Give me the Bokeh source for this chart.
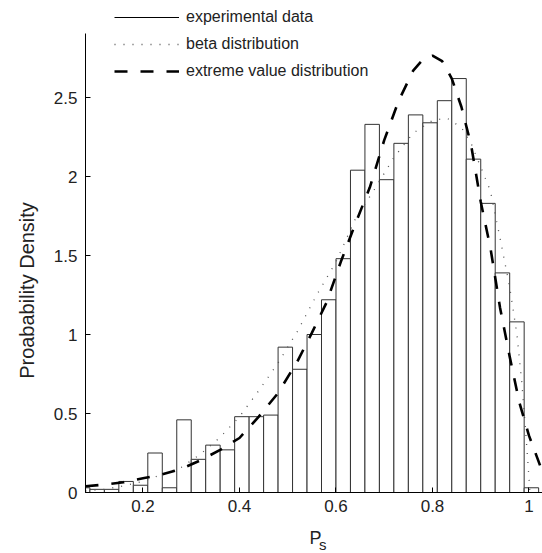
from math import pi
from bokeh.plotting import figure
from bokeh.models import Range1d, Legend, LegendItem, Label, FixedTicker
from bokeh.embed import file_html
from bokeh.resources import INLINE

# ---- data ----
bin_centers = [0.075, 0.105, 0.135, 0.165, 0.195, 0.225, 0.255, 0.285, 0.315, 0.345,
               0.375, 0.405, 0.435, 0.465, 0.495, 0.525, 0.555, 0.585, 0.615, 0.645,
               0.675, 0.705, 0.735, 0.765, 0.795, 0.825, 0.855, 0.885, 0.915, 0.945,
               0.975, 1.005]
density = [0.03, 0.02, 0.02, 0.07, 0.046, 0.25, 0.03, 0.46, 0.21, 0.30,
           0.27, 0.48, 0.48, 0.49, 0.92, 0.78, 1.00, 1.22, 1.48, 2.04,
           2.33, 1.98, 2.21, 2.39, 2.34, 2.48, 2.62, 2.11, 1.83, 1.39,
           1.08, 0.03]

beta_x = [0.0808, 0.12, 0.16, 0.20, 0.24, 0.28, 0.32, 0.36, 0.40, 0.44, 0.48, 0.52,
          0.56, 0.60, 0.64, 0.68, 0.72, 0.76, 0.80, 0.83, 0.86, 0.88, 0.90, 0.92,
          0.94, 0.96, 0.975, 0.985, 0.993, 0.998, 1.002]
beta_y = [0.01, 0.02, 0.042, 0.07, 0.115, 0.16, 0.245, 0.35, 0.48, 0.645, 0.82, 1.02,
          1.25, 1.46, 1.73, 1.92, 2.12, 2.275, 2.355, 2.37, 2.31, 2.21, 2.06, 1.91,
          1.61, 1.30, 1.00, 0.70, 0.39, 0.18, 0.0]

ev_x = [0.0808, 0.12, 0.16, 0.20, 0.24, 0.28, 0.32, 0.36, 0.40, 0.44, 0.48, 0.52,
        0.55, 0.58, 0.61, 0.64, 0.67, 0.70, 0.73, 0.76, 0.78, 0.80, 0.82, 0.84,
        0.86, 0.88, 0.90, 0.92, 0.94, 0.96, 0.98, 1.00, 1.028]
ev_y = [0.04, 0.05, 0.065, 0.09, 0.115, 0.15, 0.205, 0.27, 0.345, 0.48, 0.63, 0.83,
        1.01, 1.20, 1.46, 1.70, 1.93, 2.23, 2.48, 2.67, 2.74, 2.765, 2.73, 2.62,
        2.44, 2.20, 1.84, 1.55, 1.17, 0.86, 0.57, 0.36, 0.13]

x_ticks = [0.2, 0.4, 0.6, 0.8, 1.0]
x_tick_labels = ["0.2", "0.4", "0.6", "0.8", "1"]
y_ticks = [0, 0.5, 1, 1.5, 2, 2.5]
y_tick_labels = ["0", "0.5", "1", "1.5", "2", "2.5"]

legend_labels = ["experimental data", "beta distribution", "extreme value distribution"]
x_label_main = "P"
x_label_sub = "s"
y_label = "Proabability Density"

# axes limits
X_MIN, X_MAX = 0.0808, 1.028
Y_MIN, Y_MAX = 0.0, 2.905
BIN_W = 0.03

FONT = "Liberation Sans"
TXT = "#222222"

W, H = 542, 553
# frame covers the whole canvas; axes are placed at fixed locations inside it
p = figure(width=W, height=H, output_backend="svg", toolbar_location=None,
           x_range=Range1d(-0.0953, 1.028), y_range=Range1d(-0.386, 3.114),
           min_border=0)
p.outline_line_color = None
p.xgrid.visible = False
p.ygrid.visible = False
p.background_fill_color = "white"

bar_left = [max(c - BIN_W / 2, X_MIN) for c in bin_centers]
bar_right = [c + BIN_W / 2 for c in bin_centers]
p.quad(left=bar_left, right=bar_right, bottom=0, top=density,
       fill_color="white", line_color="#333333", line_width=1)

beta_r = p.line(beta_x, beta_y, line_color="#555555", line_width=1.3, line_dash="1 8")
ev_r = p.line(ev_x, ev_y, line_color="black", line_width=2.6, line_dash="13 13")
# legend key for the histogram outline (a solid line lying on the x axis)
exp_r = p.line(x=[X_MIN, X_MAX], y=[Y_MIN, Y_MIN], line_color="black", line_width=1)

p.xaxis.fixed_location = Y_MIN
p.xaxis.bounds = (X_MIN, X_MAX)
p.yaxis.fixed_location = X_MIN
p.yaxis.bounds = (Y_MIN, Y_MAX)

for ax, ticks, labels in ((p.xaxis, x_ticks, x_tick_labels), (p.yaxis, y_ticks, y_tick_labels)):
    ax.ticker = FixedTicker(ticks=ticks)
    ax.major_label_overrides = {t: l for t, l in zip(ticks, labels)}
    ax.major_tick_in = 5
    ax.major_tick_out = 0
    ax.minor_tick_line_color = None
    ax.axis_line_color = "black"
    ax.major_tick_line_color = "black"
    ax.major_label_text_font = FONT
    ax.major_label_text_font_size = "17px"
    ax.major_label_text_color = TXT
p.xaxis.major_label_standoff = 7
p.yaxis.major_label_standoff = 8

legend = Legend(items=[LegendItem(label=legend_labels[0], renderers=[exp_r]),
                       LegendItem(label=legend_labels[1], renderers=[beta_r]),
                       LegendItem(label=legend_labels[2], renderers=[ev_r])],
                location=(114, 472), orientation="vertical",
                glyph_width=65, glyph_height=20, label_height=20, spacing=7,
                label_standoff=7, padding=0, margin=0,
                border_line_alpha=0, background_fill_alpha=0,
                label_text_font=FONT, label_text_font_size="16px",
                label_text_color=TXT)
p.add_layout(legend)

p.add_layout(Label(x=309, y=15.5, x_units="screen", y_units="screen", text=x_label_main,
                   text_font=FONT, text_font_size="18px", text_color=TXT,
                   text_baseline="middle"))
p.add_layout(Label(x=318.5, y=9.5, x_units="screen", y_units="screen", text=x_label_sub,
                   text_font=FONT, text_font_size="15px", text_color=TXT,
                   text_baseline="middle"))
p.add_layout(Label(x=26, y=263, x_units="screen", y_units="screen", text=y_label,
                   angle=pi / 2, text_font=FONT, text_font_size="20px", text_color=TXT,
                   text_align="center", text_baseline="middle"))

open("out.html", "w").write(file_html(p, INLINE))
